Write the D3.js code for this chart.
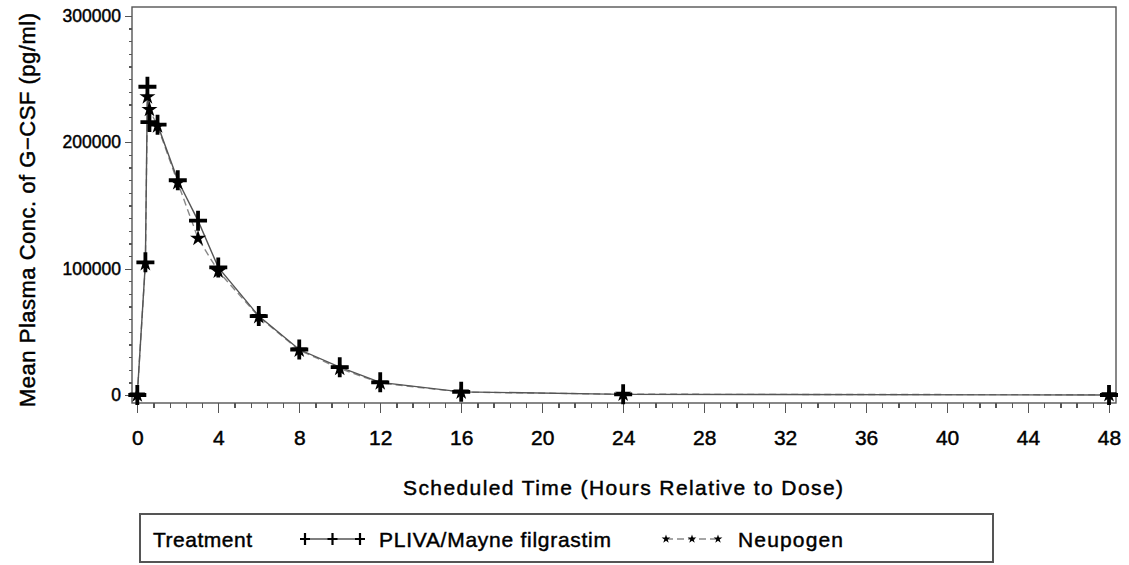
<!doctype html>
<html>
<head>
    <style>
        body { margin: 0; background: #fff; }
        svg text { font-family: "Liberation Sans", Arial, sans-serif; fill: #000; stroke: #000; stroke-width: 0.45; }
        .axis path, .axis line { stroke: #555; stroke-width: 1.3; shape-rendering: crispEdges; }
        .line { fill: none; }
        .line.pliva { stroke: #555; stroke-width: 1.4; }
        .line.neupogen { stroke: #888; stroke-width: 1.4; stroke-dasharray: 7,4; }
    </style>
</head>
<body>
    <svg id="chart"></svg>
    <script src="https://cdnjs.cloudflare.com/ajax/libs/d3/7.8.5/d3.min.js"></script>
    <script>
        // hours after dose
        var times = [0, 0.4, 0.5, 0.6, 1, 2, 3, 4, 6, 8, 10, 12, 16, 24, 48];
        // mean plasma conc. (pg/ml)
        var pliva = [0, 105000, 244000, 216000, 214000, 170000, 138000, 101000, 62500, 36000, 22000, 10000, 2500, 500, 0];
        var neupogen = [0, 104000, 236000, 226000, 213000, 168000, 124000, 98000, 62000, 35500, 21000, 9500, 2300, 600, 200];
        var xTicks = [0, 4, 8, 12, 16, 20, 24, 28, 32, 36, 40, 44, 48];
        var yTicks = [0, 100000, 200000, 300000];
        var seriesNames = ['PLIVA/Mayne filgrastim', 'Neupogen'];

        var width = 1129, height = 565;
        var svg = d3.select('#chart').attr('width', width).attr('height', height);

        var frame = { left: 132, right: 1116, top: 7, bottom: 403 };
        var x = d3.scaleLinear().domain([0, 48]).range([137.3, 1109]);
        var y = d3.scaleLinear().domain([0, 300000]).range([395, 16]);

        // minor ticks
        var xMinor = d3.range(0, 48.01, 0.8).filter(function(v) { return Math.abs(v / 4 - Math.round(v / 4)) > 0.01; });
        var yMinor = d3.range(0, 300001, 10000).filter(function(v) { return v % 100000 !== 0; });

        svg.append('g').attr('class', 'axis')
            .attr('transform', 'translate(0,' + frame.bottom + ')')
            .call(d3.axisBottom(x).tickValues(xMinor).tickSize(5).tickSizeOuter(0).tickFormat(''))
            .call(function(g) { g.select('.domain').remove(); });
        var xAxis = svg.append('g').attr('class', 'axis')
            .attr('transform', 'translate(0,' + frame.bottom + ')')
            .call(d3.axisBottom(x).tickValues(xTicks).tickSize(10).tickPadding(17).tickSizeOuter(0));
        xAxis.select('.domain').remove();
        xAxis.selectAll('text').attr('font-size', 21).attr('dy', '0.71em');

        svg.append('g').attr('class', 'axis')
            .attr('transform', 'translate(' + frame.left + ',0)')
            .call(d3.axisLeft(y).tickValues(yMinor).tickSize(3).tickSizeOuter(0).tickFormat(''))
            .call(function(g) { g.select('.domain').remove(); });
        var yAxis = svg.append('g').attr('class', 'axis')
            .attr('transform', 'translate(' + frame.left + ',0)')
            .call(d3.axisLeft(y).tickValues(yTicks).tickSize(7).tickPadding(4).tickFormat(d3.format('d')).tickSizeOuter(0));
        yAxis.select('.domain').remove();
        yAxis.selectAll('text').attr('font-size', 17.5);

        svg.append('rect')
            .attr('x', frame.left).attr('y', frame.top)
            .attr('width', frame.right - frame.left).attr('height', frame.bottom - frame.top)
            .attr('fill', 'none').attr('stroke', '#555').attr('stroke-width', 1.4);

        // titles
        svg.append('text')
            .attr('x', 623).attr('y', 495)
            .attr('text-anchor', 'middle').attr('font-size', 21)
            .attr('textLength', 440).attr('lengthAdjust', 'spacing')
            .text('Scheduled Time (Hours Relative to Dose)');
        svg.append('text')
            .attr('transform', 'translate(35,210) rotate(-90)')
            .attr('text-anchor', 'middle').attr('font-size', 22)
            .attr('textLength', 394).attr('lengthAdjust', 'spacing')
            .text('Mean Plasma Conc. of G\u2212CSF (pg/ml)');

        var plusPath = function(r) { return 'M' + (-r) + ',0H' + r + 'M0,' + (-r - 1) + 'V' + (r + 1); };
        var star = function(s) { return d3.symbol().type(d3.symbolStar).size(s)(); };

        var rowsP = times.map(function(t, i) { return { t: t, v: pliva[i] }; });
        var rowsN = times.map(function(t, i) { return { t: t, v: neupogen[i] }; });
        var liner = d3.line().x(function(d) { return x(d.t); }).y(function(d) { return y(d.v); });

        svg.append('path').attr('class', 'line neupogen').attr('d', liner(rowsN));
        svg.append('path').attr('class', 'line pliva').attr('d', liner(rowsP));

        svg.selectAll('path.mk-n').data(rowsN).enter().append('path')
            .attr('class', 'mk-n')
            .attr('transform', function(d) { return 'translate(' + x(d.t) + ',' + y(d.v) + ')'; })
            .attr('d', star(80)).attr('fill', '#000');
        svg.selectAll('path.mk-p').data(rowsP).enter().append('path')
            .attr('class', 'mk-p')
            .attr('transform', function(d) { return 'translate(' + x(d.t) + ',' + y(d.v) + ')'; })
            .attr('d', plusPath(9)).attr('stroke', '#000').attr('stroke-width', 3.8).attr('fill', 'none');

        // legend
        var leg = svg.append('g');
        leg.append('rect').attr('x', 140).attr('y', 514).attr('width', 853).attr('height', 48)
            .attr('fill', '#fff').attr('stroke', '#555').attr('stroke-width', 2);
        leg.append('text').attr('x', 153).attr('y', 547).attr('font-size', 21)
            .attr('textLength', 99).attr('lengthAdjust', 'spacing').text('Treatment');

        var legItems = [
            { name: seriesNames[0], x0: 305, x1: 360, tx: 379, tl: 232, cls: 'pliva' },
            { name: seriesNames[1], x0: 666, x1: 718, tx: 738, tl: 105, cls: 'neupogen' }
        ];
        legItems.forEach(function(it) {
            var ly = 539;
            leg.append('line').attr('class', 'line ' + it.cls)
                .attr('x1', it.x0).attr('x2', it.x1).attr('y1', ly).attr('y2', ly);
            [it.x0, (it.x0 + it.x1) / 2, it.x1].forEach(function(px) {
                if (it.cls === 'pliva') {
                    leg.append('path').attr('transform', 'translate(' + px + ',' + ly + ')')
                        .attr('d', plusPath(5)).attr('stroke', '#000').attr('stroke-width', 2.2).attr('fill', 'none');
                } else {
                    leg.append('path').attr('transform', 'translate(' + px + ',' + ly + ')')
                        .attr('d', star(24)).attr('fill', '#000');
                }
            });
            leg.append('text').attr('x', it.tx).attr('y', 547).attr('font-size', 21)
                .attr('textLength', it.tl).attr('lengthAdjust', 'spacing').text(it.name);
        });
    </script>
</body>
</html>
